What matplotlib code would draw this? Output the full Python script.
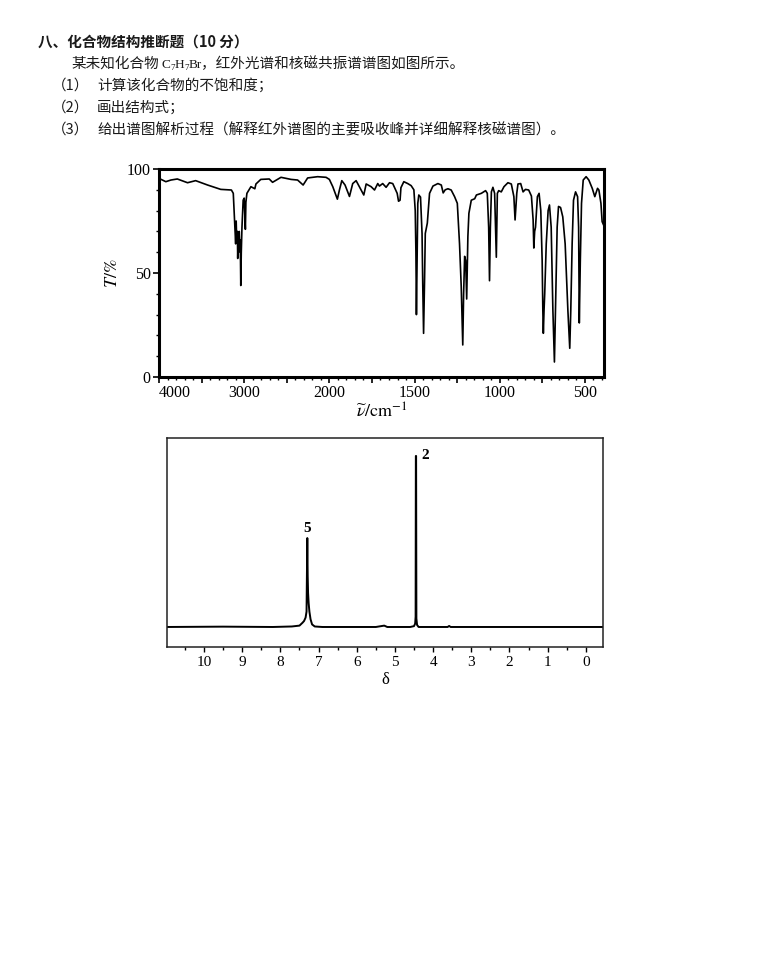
import numpy as np
import matplotlib
matplotlib.use("Agg")
import matplotlib.pyplot as plt
from matplotlib.ticker import FixedLocator, FixedFormatter, MultipleLocator

plt.rcParams['mathtext.fontset'] = 'stix'
SERIF = 'Liberation Serif'
CJK = ['Noto Sans CJK SC', 'DejaVu Sans']

# ---- IR spectrum (wavenumber cm-1, transmittance %) ----
ir_wavenumber = [4000, 3920, 3860, 3785, 3665, 3570, 3430, 3275, 3150, 3128,
                 3118, 3108, 3100, 3094, 3088, 3080, 3076, 3070, 3064, 3058,
                 3052, 3046, 3040, 3034, 3026, 3012, 3000, 2992, 2986, 2980,
                 2968, 2921, 2875, 2862, 2805, 2706, 2667, 2568, 2450, 2373,
                 2308, 2255, 2138, 2039, 2000, 1980, 1953, 1941, 1927, 1908,
                 1882, 1863, 1843, 1824, 1798, 1784, 1755, 1735, 1716, 1706,
                 1687, 1667, 1647, 1628, 1602, 1594, 1585, 1580, 1563, 1540,
                 1520, 1504, 1496, 1492, 1489, 1485, 1481, 1475, 1465, 1456,
                 1452, 1447, 1441, 1437, 1425, 1412, 1392, 1363, 1343, 1332,
                 1320, 1304, 1285, 1265, 1249, 1236, 1226, 1217, 1212, 1206,
                 1200, 1194, 1187, 1181, 1167, 1147, 1137, 1108, 1083, 1073,
                 1065, 1060, 1055, 1049, 1040, 1030, 1020, 1014, 1006, 991,
                 975, 952, 932, 917, 910, 900, 893, 877, 863, 849,
                 830, 814, 804, 800, 795, 790, 779, 769, 759, 751,
                 747, 744, 740, 736, 727, 716, 708, 698, 688, 679,
                 671, 663, 655, 643, 630, 616, 600, 589, 583, 575,
                 567, 555, 543, 537, 533, 527, 520, 510, 493, 477,
                 457, 442, 426, 418, 406, 399, 390]
ir_transmittance = [95.5, 93.9, 94.7, 95.2, 93.4, 94.4, 92.3, 90.2, 89.9, 88.3,
                    80, 72, 64, 75, 66, 70, 57, 68, 60, 70,
                    63, 66, 44, 60, 72, 85, 86, 78, 71, 84,
                    88.3, 91.5, 90.5, 92.8, 95, 95.2, 93.6, 96, 95, 94.7,
                    92.3, 95.7, 96.3, 96, 95, 91.5, 85.5, 89.9, 94.4, 92.3,
                    86.8, 93, 94.4, 91.5, 87.5, 92.8, 91.5, 89.9, 93, 91.8,
                    93, 91.2, 93.4, 93, 88.3, 84.5, 85, 91, 93.9, 93,
                    92, 90, 80, 60, 30, 56, 83.5, 87.5, 86.5, 69,
                    45, 21, 48, 69, 74, 88.3, 91.8, 93, 92.3, 88.5,
                    90, 90.5, 89.9, 86.7, 83.5, 64, 43.4, 15.4, 40, 58,
                    56, 37.5, 67.5, 78.7, 85, 85.7, 87.5, 88.3, 89.6, 88.3,
                    72, 46.3, 72, 89, 91.2, 88.3, 57.6, 88.3, 89.6, 89,
                    91.5, 93.4, 92.8, 86.7, 75.5, 88.3, 92.8, 93, 89, 90.2,
                    89.9, 87, 75.5, 62, 70, 72, 86.7, 88.3, 80, 56,
                    32, 21, 32, 40, 64, 80, 82.7, 72, 32, 7.2,
                    40, 72, 82, 81.5, 77, 64, 32, 13.8, 32, 64,
                    85, 89, 86.7, 72, 26, 56, 83.5, 94.7, 96.3, 94.7,
                    90.7, 86.7, 90.7, 89.9, 83.5, 74.7, 73]
ir_major = [4000, 3000, 2000, 1500, 1000, 500]
ir_mid = [3500, 2500, 1750, 1250, 750]

# ---- 1H NMR spectrum (ppm, relative intensity) ----
nmr_ppm = [11.0, 9.5, 8.2, 7.7, 7.5, 7.42, 7.38, 7.34, 7.315, 7.305,
           7.295, 7.285, 7.275, 7.26, 7.24, 7.21, 7.17, 7.10, 6.9, 5.5,
           5.28, 5.2, 4.6, 4.50, 4.47, 4.458, 4.452, 4.445, 4.438, 4.42,
           4.38, 3.62, 3.58, 3.54, -0.45]
nmr_intensity = [0.0, 0.002, 0.0, 0.003, 0.008, 0.025, 0.035, 0.055, 0.09, 0.31,
                 0.52, 0.30, 0.20, 0.14, 0.09, 0.045, 0.015, 0.003, 0.0, 0.0,
                 0.008, 0.0, 0.0, 0.005, 0.02, 0.06, 1.0, 1.0, 0.05, 0.012,
                 0.0, 0.0, 0.006, 0.0, 0.0]
nmr_labels = [(7.295, 0.52, '5'), (4.45, 1.0, '2')]

W, H = 781, 965
fig = plt.figure(figsize=(W / 100, H / 100), dpi=100)


def fx(px):
    return px / W


def fy(py):
    return 1 - py / H


# ---- header text ----
tc = '#1a1a1a'
fig.text(fx(38), fy(47), '八、化合物结构推断题（10 分）', family=CJK, fontsize=10.5,
         weight='bold', color=tc, va='baseline')
fig.text(fx(71), fy(68), '某未知化合物', family=CJK, fontsize=10.5, color=tc, va='baseline')
fig.text(fx(161), fy(68), 'C', family=SERIF, fontsize=9.5, color=tc, va='baseline')
fig.text(fx(170), fy(70.5), '7', family=SERIF, fontsize=6.5, color=tc, va='baseline')
fig.text(fx(174.5), fy(68), 'H', family=SERIF, fontsize=9.5, color=tc, va='baseline')
fig.text(fx(184), fy(70.5), '7', family=SERIF, fontsize=6.5, color=tc, va='baseline')
fig.text(fx(188.5), fy(68), 'Br', family=SERIF, fontsize=9.5, color=tc, va='baseline')
fig.text(fx(201), fy(68), '，红外光谱和核磁共振谱谱图如图所示。', family=CJK, fontsize=10.5,
         color=tc, va='baseline')
items = ['计算该化合物的不饱和度；', '画出结构式；',
         '给出谱图解析过程（解释红外谱图的主要吸收峰并详细解释核磁谱图）。']
for i, s in enumerate(items):
    yb = 90 + 22 * i
    fig.text(fx(52), fy(yb), '（%d）' % (i + 1), family=CJK, fontsize=10.5, color=tc, va='baseline')
    fig.text(fx(97), fy(yb), s, family=CJK, fontsize=10.5, color=tc, va='baseline')

# ---- IR axes ----
ax1 = fig.add_axes([fx(159), fy(377), (604 - 159) / W, (377 - 169) / H])


def fwd(x):
    x = np.asarray(x, float)
    return np.where(x <= 2000, x, 2000 + (x - 2000) / 2)


def inv(u):
    u = np.asarray(u, float)
    return np.where(u <= 2000, u, 2000 + (u - 2000) * 2)


ax1.set_xscale('function', functions=(fwd, inv))
ax1.plot(ir_wavenumber, ir_transmittance, color='black', lw=1.2)
ax1.set_xlim(4000, 388)
ax1.set_ylim(0, 100)

pos = ir_major + ir_mid
ax1.xaxis.set_major_locator(FixedLocator(pos))
ax1.xaxis.set_major_formatter(FixedFormatter([str(v) for v in ir_major] + [''] * len(ir_mid)))
minor = list(range(3900, 2000, -100)) + list(range(1950, 399, -50))
ax1.xaxis.set_minor_locator(FixedLocator(minor))
ax1.yaxis.set_major_locator(FixedLocator([0, 50, 100]))
ax1.yaxis.set_minor_locator(MultipleLocator(10))
ax1.tick_params(which='major', direction='out', length=4, width=1.2, labelsize=11.5, pad=2)
ax1.tick_params(which='minor', direction='out', length=2.5, width=1.0)
for lab in ax1.get_xticklabels() + ax1.get_yticklabels():
    lab.set_family(SERIF)
ax1.get_xticklabels()[0].set_ha('left')
for sp in ax1.spines.values():
    sp.set_linewidth(2.2)
ax1.set_xlabel(r'$\widetilde{\nu}/\mathrm{cm}^{-1}$', fontsize=13, labelpad=1)
ax1.set_ylabel(r'$T/\%$', fontsize=13, labelpad=4)

# ---- NMR axes ----
ax2 = fig.add_axes([fx(167), fy(647), (603 - 167) / W, (647 - 438) / H])
ax2.plot(nmr_ppm, nmr_intensity, color='black', lw=1.4)
ax2.set_xlim(10.97, -0.45)
ax2.set_ylim(-0.117, 1.105)
ax2.xaxis.set_major_locator(FixedLocator(range(0, 11)))
ax2.xaxis.set_minor_locator(MultipleLocator(0.5))
ax2.set_yticks([])
ax2.tick_params(which='major', direction='out', length=3.5, width=1.0, labelsize=11, pad=3)
ax2.tick_params(which='minor', direction='out', length=2.5, width=1.0)
for lab in ax2.get_xticklabels():
    lab.set_family(SERIF)
for sp in ax2.spines.values():
    sp.set_linewidth(1.1)
    sp.set_color('#222222')
for x, y, s in nmr_labels:
    if s == '5':
        ax2.annotate(s, (x, y), xytext=(0, 7), textcoords='offset points', ha='center',
                     va='center', family=SERIF, fontsize=11, weight='bold')
    else:
        ax2.annotate(s, (x, y), xytext=(7, 0), textcoords='offset points', ha='center',
                     va='center', family=SERIF, fontsize=11, weight='bold')
ax2.set_xlabel('δ', family=SERIF, fontsize=12, labelpad=2)

fig.savefig('out.png', dpi=100)
